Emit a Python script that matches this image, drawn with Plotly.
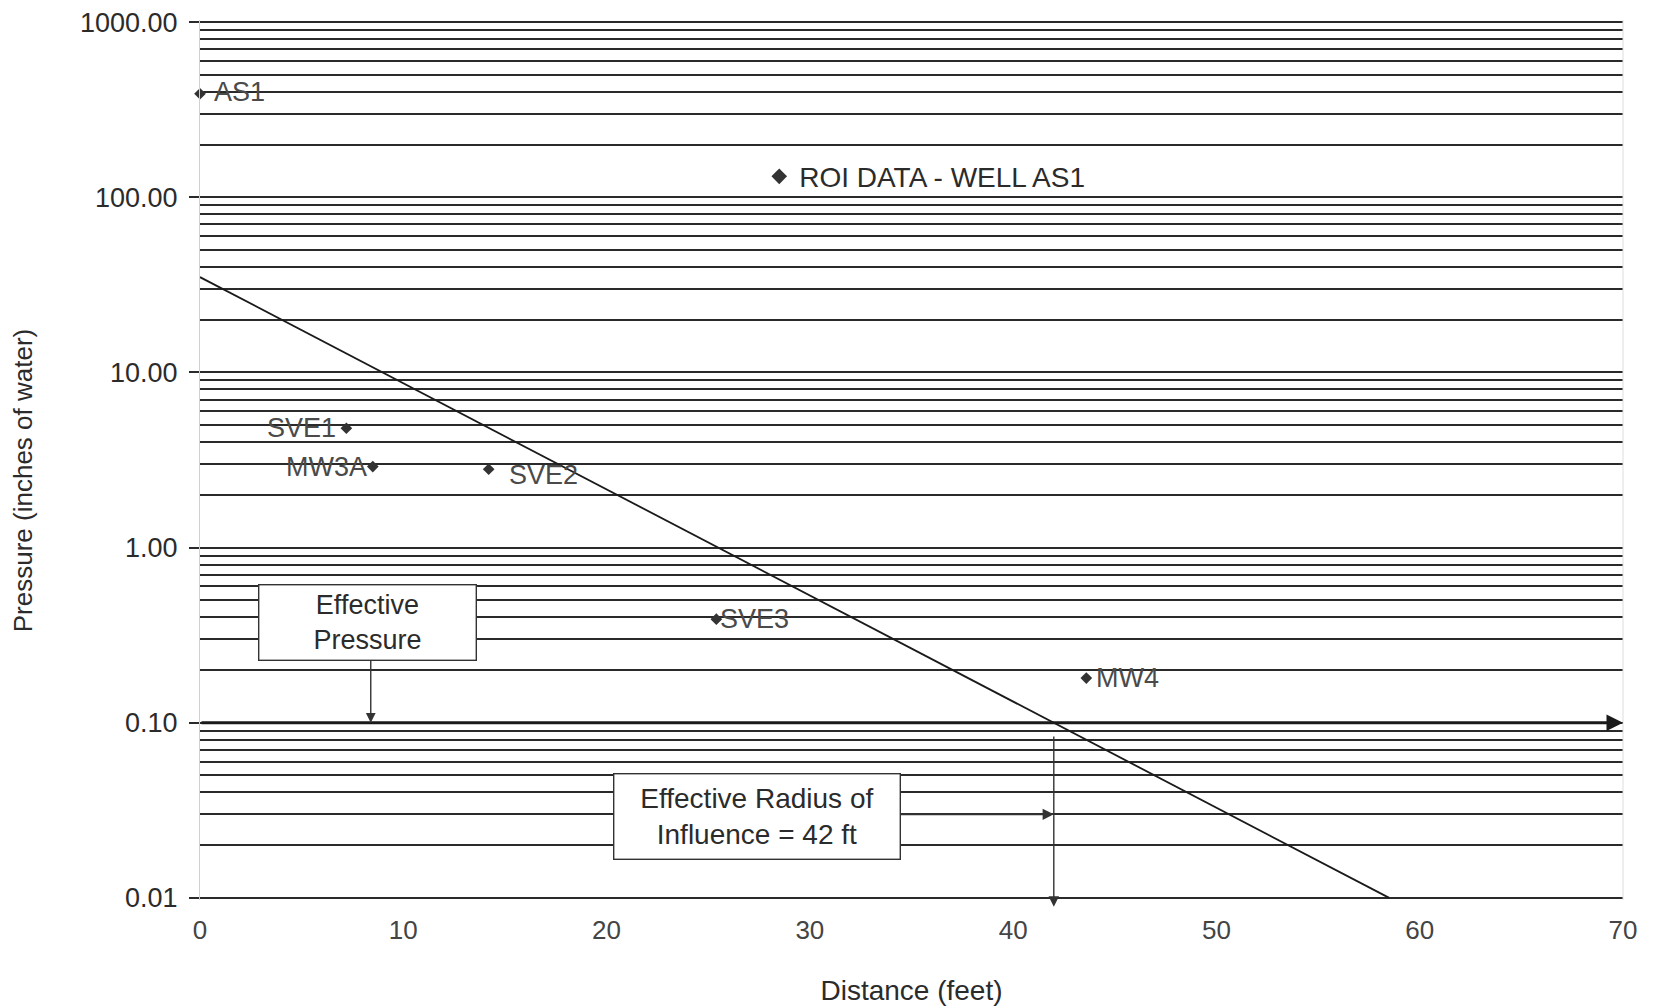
import math
import plotly.graph_objects as go

# ---- data ----
well_names = ["AS1", "SVE1", "MW3A", "SVE2", "SVE3", "MW4"]
distance_ft = [0.0, 7.2, 8.5, 14.2, 25.4, 43.6]
pressure_inh2o = [390, 4.8, 2.9, 2.8, 0.39, 0.18]
label_side = ["right", "left", "left", "right", "right", "right"]

trend_x = [0.0, 58.5]
trend_y = [35.0, 0.01]

effective_pressure = 0.1
effective_radius = 42.0

y_tick_vals = [0.01, 0.1, 1, 10, 100, 1000]
y_tick_text = ["0.01", "0.10", "1.00", "10.00", "100.00", "1000.00"]
x_tick_vals = [0, 10, 20, 30, 40, 50, 60, 70]

minor_vals = [m * 10 ** e for e in range(-2, 3) for m in range(2, 10)]

FONT = "Liberation Sans, Arial, sans-serif"
INK = "#2b2b2b"
LBL = "#4a4a4a"

fig = go.Figure()

fig.add_trace(go.Scatter(
    x=trend_x, y=trend_y, mode="lines",
    line=dict(color="#1a1a1a", width=1.8), showlegend=False, hoverinfo="skip"))

fig.add_trace(go.Scatter(
    x=distance_ft, y=pressure_inh2o, mode="markers",
    marker=dict(symbol="diamond", size=9, color="#333"),
    name="ROI DATA - WELL AS1", showlegend=True, cliponaxis=False))

lp = math.log10(effective_pressure)

annotations = []
shift_map = {"AS1": (12, 2), "SVE1": (-8, 0), "MW3A": (-4, 0), "SVE2": (18, -6), "SVE3": (2, 0), "MW4": (8, 0)}
for nm, xv, yv, side in zip(well_names, distance_ft, pressure_inh2o, label_side):
    dx, dy = shift_map[nm]
    annotations.append(dict(
        x=xv, y=math.log10(yv), xref="x", yref="y", text=nm, showarrow=False,
        xanchor="left" if side == "right" else "right", yanchor="middle",
        xshift=dx, yshift=dy, font=dict(family=FONT, size=27, color=LBL)))

annotations += [
    dict(x=70, y=lp, ax=0, ay=lp, xref="x", yref="y", axref="x", ayref="y",
         text="", showarrow=True, arrowhead=2, arrowsize=1.1, arrowwidth=3, arrowcolor="#1a1a1a"),
    dict(x=effective_radius, y=-2.05, ax=effective_radius, ay=math.log10(0.085),
         xref="x", yref="y", axref="x", ayref="y",
         text="", showarrow=True, arrowhead=2, arrowsize=1.5, arrowwidth=1.4, arrowcolor="#333"),
    dict(x=effective_radius, y=math.log10(0.030), ax=34.4, ay=math.log10(0.030),
         xref="x", yref="y", axref="x", ayref="y",
         text="", showarrow=True, arrowhead=2, arrowsize=1.4, arrowwidth=1.6, arrowcolor="#333"),
    dict(x=8.4, y=lp, ax=8.4, ay=math.log10(0.23),
         xref="x", yref="y", axref="x", ayref="y",
         text="", showarrow=True, arrowhead=2, arrowsize=1.4, arrowwidth=1.4, arrowcolor="#333"),
    dict(x=8.23, y=math.log10(0.373), xref="x", yref="y", text="Effective<br>Pressure",
         showarrow=False, font=dict(family=FONT, size=27, color=INK),
         bgcolor="white", bordercolor="#333", borderwidth=1.4, borderpad=2,
         width=212, height=70, align="center", valign="middle"),
    dict(x=27.4, y=math.log10(0.029), xref="x", yref="y", text="Effective Radius of<br>Influence = 42 ft",
         showarrow=False, font=dict(family=FONT, size=28, color=INK),
         bgcolor="white", bordercolor="#333", borderwidth=1.4, borderpad=2,
         width=281, height=80, align="center", valign="middle"),
    # y-axis title
    dict(x=-0.1244, y=0.477, xref="paper", yref="paper", text="Pressure (inches of water)",
         textangle=-90, showarrow=False, xanchor="center", yanchor="middle",
         font=dict(family=FONT, size=26, color=INK)),
]

fig.update_layout(
    width=1656, height=1008,
    margin=dict(l=192, r=41, t=12, b=116, autoexpand=False),
    paper_bgcolor="white", plot_bgcolor="white",
    font=dict(family=FONT, size=27, color=INK),
    annotations=annotations,
    legend=dict(x=0.393, y=0.822, xanchor="left", yanchor="middle",
                bgcolor="rgba(0,0,0,0)", font=dict(family=FONT, size=28, color=INK),
                itemsizing="constant"),
    xaxis=dict(range=[0, 70], tickvals=x_tick_vals, showgrid=False, zeroline=False,
               showline=False, ticks="", ticklabelstandoff=12, automargin=False,
               tickfont=dict(size=26, color="#444"),
               title=dict(text="Distance (feet)", font=dict(size=28, color=INK), standoff=36)),
    yaxis=dict(type="log", range=[-2.012, 3.012], tickvals=y_tick_vals, ticktext=y_tick_text,
               showgrid=True, gridcolor="#2a2a2a", gridwidth=1.6,
               ticks="outside", ticklen=10, tickcolor="#2a2a2a", tickwidth=1.5,
               ticklabelstandoff=6, ticklabeloverflow="allow", automargin=False,
               showline=True, linecolor="#d0d0d0", linewidth=1, zeroline=False,
               tickfont=dict(size=27, color=INK),
               minor=dict(tickmode="array", tickvals=minor_vals, showgrid=True,
                          gridcolor="#2a2a2a", gridwidth=1.5, ticks="")),
)

fig.add_shape(type="line", xref="paper", yref="paper", x0=1, x1=1, y0=0, y1=1,
              line=dict(color="#dddddd", width=1))

fig.write_html("out.html")
